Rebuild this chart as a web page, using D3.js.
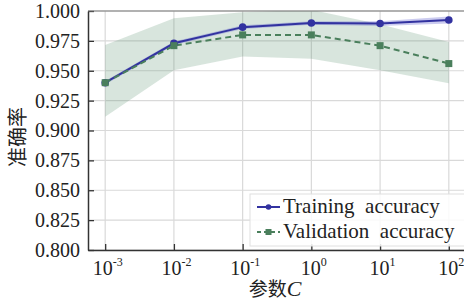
<!DOCTYPE html>
<html>
<head>
<meta charset="utf-8">
<script src="https://cdn.jsdelivr.net/npm/d3@7"></script>
<style>
  body { margin:0; background:#fff; }
  svg { display:block; }
</style>
</head>
<body>
<div id="chart"></div>
<script>
// values
let paramC = [0.001, 0.01, 0.1, 1, 10, 100];
let trainMean = [0.940, 0.973, 0.9865, 0.990, 0.9895, 0.9925];
let trainStd = [0.0015, 0.0015, 0.0015, 0.0015, 0.002, 0.003];
let validMean = [0.940, 0.971, 0.980, 0.980, 0.971, 0.956];
let validLow = [0.9115, 0.9505, 0.962, 0.960, 0.9505, 0.9395];
let validHigh = [0.9715, 0.994, 0.999, 1.001, 0.989, 0.974];
let yTicks = [0.800, 0.825, 0.850, 0.875, 0.900, 0.925, 0.950, 0.975, 1.000];
let xTickExp = [-3, -2, -1, 0, 1, 2];

let screen = {width:464, height:303};
let plot = {left:88, right:466, top:11, bottom:250};

let xScale = d3.scaleLog()
    .domain([Math.pow(10,-3.25), Math.pow(10,2.25)])
    .range([plot.left, plot.right]);
let yScale = d3.scaleLinear()
    .domain([0.8, 1.0])
    .range([plot.bottom, plot.top]);

let svg = d3.select("#chart").append("svg")
    .attr("width", screen.width)
    .attr("height", screen.height);

svg.append("defs").append("clipPath").attr("id","clip")
    .append("rect")
    .attr("x", plot.left).attr("y", plot.top)
    .attr("width", plot.right-plot.left).attr("height", plot.bottom-plot.top);

let serif = "'Liberation Serif','Times New Roman',serif";

// grid
let grid = svg.append("g");
grid.selectAll("line.h").data(yTicks).enter().append("line")
    .attr("x1", plot.left).attr("x2", plot.right)
    .attr("y1", d => yScale(d)).attr("y2", d => yScale(d))
    .attr("stroke", "#d9d9d9").attr("stroke-width", 1.2);
grid.selectAll("line.v").data(paramC).enter().append("line")
    .attr("x1", d => xScale(d)).attr("x2", d => xScale(d))
    .attr("y1", plot.top).attr("y2", plot.bottom)
    .attr("stroke", "#d9d9d9").attr("stroke-width", 1.2);

let chart = svg.append("g").attr("clip-path", "url(#clip)");

// bands
let idx = d3.range(paramC.length);
chart.append("path")
    .datum(idx)
    .attr("d", d3.area()
        .x(i => xScale(paramC[i]))
        .y0(i => yScale(validLow[i]))
        .y1(i => yScale(validHigh[i])))
    .attr("fill", "#4e8a62").attr("fill-opacity", 0.22);

chart.append("path")
    .datum(idx)
    .attr("d", d3.area()
        .x(i => xScale(paramC[i]))
        .y0(i => yScale(trainMean[i]-trainStd[i]))
        .y1(i => yScale(trainMean[i]+trainStd[i])))
    .attr("fill", "#6a6ad0").attr("fill-opacity", 0.35);

let trainColor = "#3232a0";
let validColor = "#4a7f5c";

chart.append("path")
    .datum(idx)
    .attr("d", d3.line().x(i => xScale(paramC[i])).y(i => yScale(trainMean[i])))
    .attr("fill", "none").attr("stroke", trainColor).attr("stroke-width", 2);

chart.append("path")
    .datum(idx)
    .attr("d", d3.line().x(i => xScale(paramC[i])).y(i => yScale(validMean[i])))
    .attr("fill", "none").attr("stroke", validColor).attr("stroke-width", 2)
    .attr("stroke-dasharray", "6,4");

chart.selectAll("circle.tr").data(idx).enter().append("circle")
    .attr("cx", i => xScale(paramC[i]))
    .attr("cy", i => yScale(trainMean[i]))
    .attr("r", 3.8).attr("fill", trainColor);

chart.selectAll("rect.va").data(idx).enter().append("rect")
    .attr("x", i => xScale(paramC[i]) - 3.5)
    .attr("y", i => yScale(validMean[i]) - 3.5)
    .attr("width", 7).attr("height", 7).attr("fill", validColor);

// axes
let yAxis = svg.append("g")
    .attr("transform", "translate(" + plot.left + ",0)")
    .call(d3.axisLeft(yScale).tickValues(yTicks).tickFormat(d3.format(".3f"))
        .tickSizeInner(-6).tickSizeOuter(0).tickPadding(8));
yAxis.select(".domain").attr("stroke", "#333").attr("stroke-width", 1.5);
yAxis.selectAll(".tick line").attr("stroke", "#333").attr("stroke-width", 1.3);
yAxis.selectAll("text").attr("font-family", serif).attr("font-size", 20)
    .attr("fill", "#222");

let xAxis = svg.append("g")
    .attr("transform", "translate(0," + plot.bottom + ")")
    .call(d3.axisBottom(xScale).tickValues(paramC).tickFormat("")
        .tickSizeInner(-6).tickSizeOuter(0));
xAxis.select(".domain").attr("stroke", "#333").attr("stroke-width", 1.5);
xAxis.selectAll(".tick line").attr("stroke", "#333").attr("stroke-width", 1.3);
xAxis.selectAll(".tick").append("text")
    .attr("y", 25).attr("x", 2)
    .attr("text-anchor", "middle")
    .attr("font-family", serif).attr("font-size", 20).attr("fill", "#222")
    .each(function(d, i) {
        let t = d3.select(this);
        t.append("tspan").text("10");
        t.append("tspan").attr("dy", -9).attr("font-size", 12).text(xTickExp[i]);
    });

// top spine
svg.append("line")
    .attr("x1", plot.left).attr("x2", plot.right)
    .attr("y1", plot.top).attr("y2", plot.top)
    .attr("stroke", "#777").attr("stroke-width", 1.2);

// axis labels
let cjk = "'Noto Sans CJK SC'," + serif;
let xLabel = svg.append("text")
    .attr("x", 275).attr("y", 296)
    .attr("text-anchor", "middle")
    .attr("font-size", 19).attr("fill", "#222");
xLabel.append("tspan").attr("font-family", cjk).text("参数");
xLabel.append("tspan").attr("font-family", serif).attr("font-style", "italic")
    .attr("font-size", 22).text("C");

svg.append("text")
    .attr("transform", "translate(25,137) rotate(-90)")
    .attr("text-anchor", "middle")
    .attr("font-family", cjk).attr("font-size", 20).attr("fill", "#222")
    .text("准确率");

// legend
let legend = svg.append("g");
legend.append("rect")
    .attr("x", 250).attr("y", 194).attr("width", 220).attr("height", 52)
    .attr("fill", "#fff").attr("fill-opacity", 0.85)
    .attr("stroke", "#e0e0e0");
let legendItems = [
    {name:"Training  accuracy", color:trainColor, dash:null, shape:"circle"},
    {name:"Validation  accuracy", color:validColor, dash:"4,3", shape:"rect"}
];
legendItems.forEach(function(d, i) {
    let y = 207 + i*25;
    legend.append("line")
        .attr("x1", 257).attr("x2", 280).attr("y1", y).attr("y2", y)
        .attr("stroke", d.color).attr("stroke-width", 2)
        .attr("stroke-dasharray", d.dash);
    if (d.shape === "circle") {
        legend.append("circle").attr("cx", 268.5).attr("cy", y).attr("r", 2.8).attr("fill", d.color);
    } else {
        legend.append("rect").attr("x", 265.5).attr("y", y-3).attr("width", 6).attr("height", 6).attr("fill", d.color);
    }
    legend.append("text")
        .attr("x", 283).attr("y", y + 6)
        .attr("font-family", serif).attr("font-size", 21).attr("fill", "#222")
        .style("white-space", "pre")
        .text(d.name);
});
</script>
</body>
</html>
